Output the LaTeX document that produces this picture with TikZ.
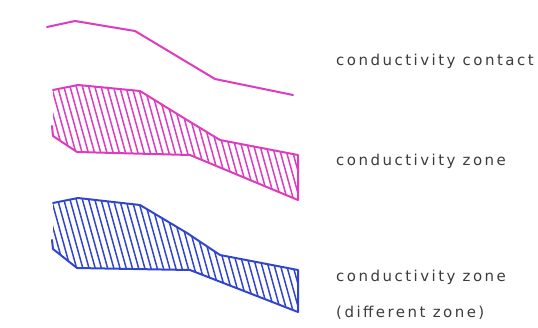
\documentclass[tikz,border=0pt]{standalone}
\usepackage{fontspec}
\setmainfont{DejaVu Sans}
\definecolor{pinkc}{RGB}{222,60,190}
\definecolor{bluec}{RGB}{50,70,205}
\definecolor{txtc}{RGB}{60,60,60}
\begin{document}
\begin{tikzpicture}[x=1pt,y=-1pt,
  outline/.style={line width=2pt,line join=round,line cap=round},
  hatchline/.style={line width=1.5pt},
  lbl/.style={anchor=base west,inner sep=0pt,text=txtc,font=\fontsize{15}{17}\selectfont\addfontfeatures{LetterSpace=16.5}}]
\useasboundingbox (0,0) rectangle (538,327);
% contact line
\draw[pinkc,outline] (47,27) -- (75,21) -- (135,31) -- (215,79) -- (293,95);
% pink zone
\begin{scope}
\clip (53,90) -- (78,85) -- (140,91) -- (187,120) -- (220,140) -- (298,155) -- (298,200) -- (190,155) -- (77,152) -- (53,136) -- cycle;
\foreach \x in {0,6.2,...,320} \draw[pinkc,hatchline] (\x,80) -- ++(36,130);
\end{scope}
\draw[pinkc,outline] (52,126) -- (53,136) -- (77,152) -- (190,155) -- (298,200) -- (298,155) -- (220,140) -- (187,120) -- (140,91) -- (78,85) -- (53,90);
% blue zone
\begin{scope}
\clip (53,203) -- (78,198) -- (140,205) -- (187,233) -- (220,255) -- (298,270) -- (298,312) -- (190,270) -- (77,268) -- (53,249) -- cycle;
\foreach \x in {0,6.2,...,320} \draw[bluec,hatchline] (\x,193) -- ++(36,130);
\end{scope}
\draw[bluec,outline] (52,240) -- (53,249) -- (77,268) -- (190,270) -- (298,312) -- (298,270) -- (220,255) -- (187,233) -- (140,205) -- (78,198) -- (53,203);
% labels
\node[lbl] (t1) at (336,65.5) {conductivity contact};
\node[lbl] (t2) at (336,165.5) {conductivity zone};
\node[lbl] (t3) at (336,281) {conductivity zone};
\node[lbl] (t4) at (336,317) {(different zone)};
\end{tikzpicture}
\end{document}
